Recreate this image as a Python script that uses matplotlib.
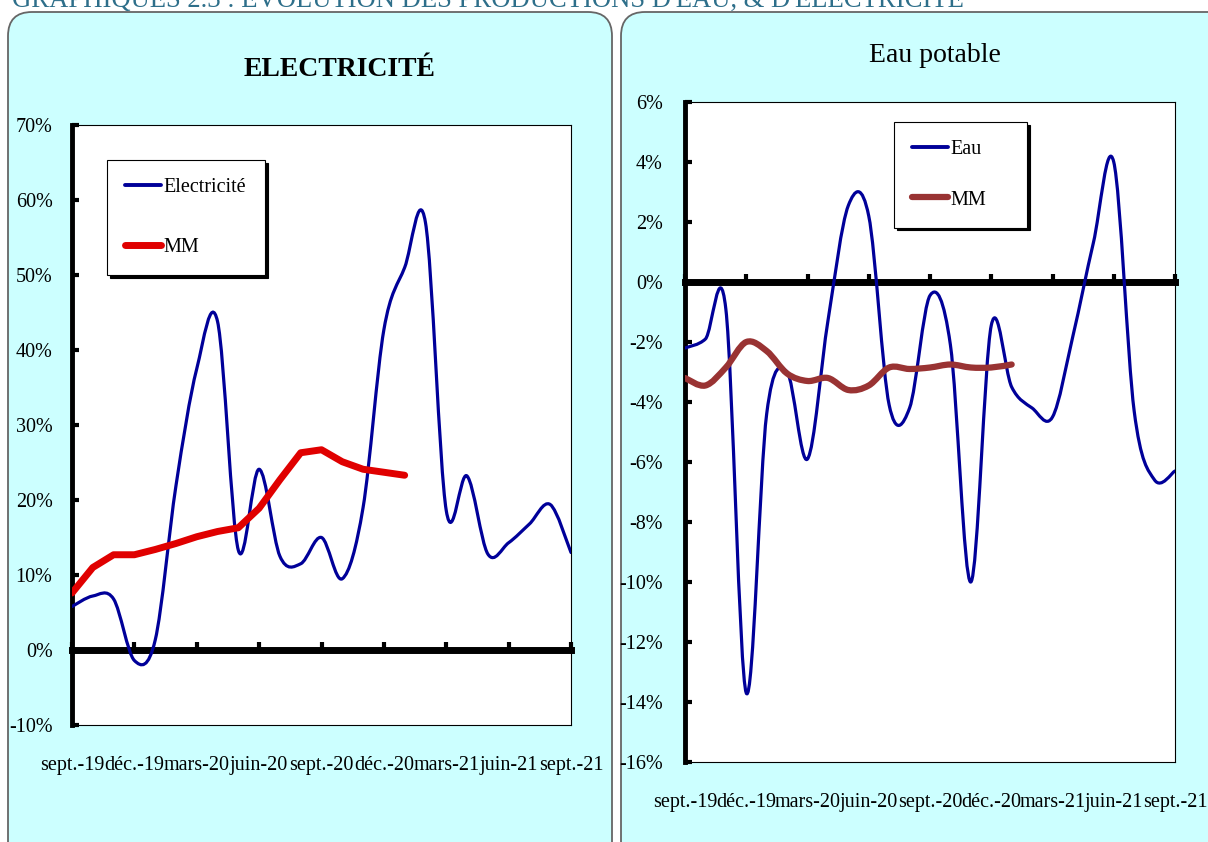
import numpy as np
import matplotlib
matplotlib.use('Agg')
import matplotlib.pyplot as plt
from matplotlib.path import Path
from matplotlib.patches import PathPatch, FancyBboxPatch
from matplotlib.lines import Line2D

plt.rcParams['font.family'] = ['Liberation Serif', 'DejaVu Serif']
plt.rcParams['axes.unicode_minus'] = False

# ------------------- DONNEES ----------------
# mois de sept.-19 a sept.-21 (25 mois), etiquettes tous les 3 mois
mois = np.arange(25)
etiq_idx = np.arange(0, 25, 3)
etiquettes = ['sept.-19', 'déc.-19', 'mars-20', 'juin-20', 'sept.-20',
              'déc.-20', 'mars-21', 'juin-21', 'sept.-21']

# electricite, glissement annuel en %
elec = [5.8, 7.2, 6.8, -1.4, 1.3, 21.9, 37.5, 43.8, 13.3, 24.1, 12.5, 11.5,
        15.0, 9.5, 19.0, 42.7, 51.0, 57.0, 18.6, 23.2, 12.8, 14.3, 16.8,
        19.4, 13.0]
elec_mm = [7.6, 11.0, 12.7, 12.7, 13.4, 14.2, 15.1, 15.8, 16.3, 18.9, 22.7,
           26.3, 26.7, 25.1, 24.1, 23.7, 23.3]
elec_yticks = [-10, 0, 10, 20, 30, 40, 50, 60, 70]

# eau potable, glissement annuel en %
eau = [-2.2, -1.9, -0.9, -13.7, -4.4, -3.0, -5.9, -1.3, 2.55, 2.2, -4.1,
       -4.2, -0.45, -2.1, -10.0, -1.45, -3.5, -4.2, -4.5, -1.8, 1.3, 4.0,
       -4.3, -6.6, -6.3]
eau_mm = [-3.2, -3.45, -2.85, -2.0, -2.3, -3.05, -3.3, -3.2, -3.6, -3.45,
          -2.85, -2.9, -2.85, -2.75, -2.85, -2.85, -2.75]
eau_yticks = [-16, -14, -12, -10, -8, -6, -4, -2, 0, 2, 4, 6]

TITRE = "GRAPHIQUES 2.3 : EVOLUTION DES PRODUCTIONS D'EAU, & D'ELECTRICITE"
FS = 14.5


def lisse(ax, x, y, **kw):
    "courbe lissee facon excel (bezier de catmull-rom)"
    p = np.column_stack([np.asarray(x, float), np.asarray(y, float)])
    pp = np.vstack([p[0], p, p[-1]])
    verts, codes = [p[0]], [Path.MOVETO]
    for i in range(len(p) - 1):
        p0, p1, p2, p3 = pp[i], pp[i + 1], pp[i + 2], pp[i + 3]
        verts += [p1 + (p2 - p0) / 6, p2 - (p3 - p1) / 6, p2]
        codes += [Path.CURVE4] * 3
    ax.add_patch(PathPatch(Path(verts, codes), facecolor='none',
                           capstyle='round', joinstyle='round', **kw))


def habille(ax, ylim, yticks, ypad, xpad):
    ax.set_xlim(0, 24)
    ax.set_ylim(*ylim)
    ax.set_yticks(yticks)
    ax.set_yticklabels(['%d%%' % v for v in yticks], fontsize=FS)
    ax.set_xticks(etiq_idx)
    ax.set_xticklabels(etiquettes, fontsize=FS)
    ax.tick_params(axis='x', length=0, pad=xpad)
    ax.tick_params(axis='y', direction='in', length=5, width=3, pad=ypad)
    for s in ['top', 'right', 'bottom']:
        ax.spines[s].set_linewidth(0.8)
    ax.spines['left'].set_linewidth(3.5)
    # axe des abscisses a 0
    pos = (0 - ylim[0]) / (ylim[1] - ylim[0])
    sec = ax.secondary_xaxis(pos)
    sec.set_alignment('bottom')
    sec.set_xticks(etiq_idx)
    sec.set_xticklabels([''] * len(etiq_idx))
    sec.tick_params(direction='in', length=6, width=3)
    sec.spines['bottom'].set_linewidth(5)


def legende(ax, handles, labels, x0, y0, w, spacing):
    leg = ax.legend(handles, labels, loc='upper left',
                    bbox_to_anchor=(x0, y0, w, 0), mode='expand',
                    alignment='center', borderaxespad=0,
                    fontsize=FS, frameon=True, fancybox=False,
                    edgecolor='black', framealpha=1,
                    shadow={'color': 'black', 'alpha': 1},
                    borderpad=0.9, labelspacing=spacing, handlelength=1.8,
                    handletextpad=0.1)
    leg.get_frame().set_linewidth(0.8)


fig = plt.figure(figsize=(12.08, 8.42), dpi=100)
W, H = 1208, 842

# panneaux de fond
for x0, x1 in [(8, 612), (621, 1240)]:
    fig.patches.append(FancyBboxPatch((x0, -40), x1 - x0, H - 12 + 40,
                                      boxstyle='round,pad=0,rounding_size=24',
                                      facecolor='#CCFFFF', edgecolor='#666666',
                                      linewidth=1.3, transform=None, zorder=-5))

fig.text(12 / W, 1 - 7 / H, TITRE, fontsize=19.2, color='#2E6F8A',
         va='baseline', ha='left')

# ---------------- ELECTRICITE ----------------
ax1 = fig.add_axes([72 / W, 1 - 725 / H, 499 / W, 600 / H])
ax1.set_facecolor('white')
lisse(ax1, mois, elec, edgecolor='#000099', linewidth=2.3, zorder=3)
ax1.plot(mois[:len(elec_mm)], elec_mm, color='#E00000', linewidth=5,
         solid_capstyle='round', solid_joinstyle='round', zorder=4)
habille(ax1, (-10, 70), elec_yticks, 14, 22)
legende(ax1, [Line2D([], [], color='#000099', lw=2.8, solid_capstyle='round'),
              Line2D([], [], color='#E00000', lw=5, solid_capstyle='round')],
        ['Electricité', 'MM'], 35 / 499, 1 - 35 / 600, 158 / 499, 2.0)
fig.text(340 / W, 1 - 70 / H, 'ELECTRICITÉ', fontsize=20, fontweight='bold',
         ha='center', va='center')

# ---------------- EAU POTABLE ----------------
ax2 = fig.add_axes([685 / W, 1 - 762 / H, 490 / W, 660 / H])
ax2.set_facecolor('white')
lisse(ax2, mois, eau, edgecolor='#000099', linewidth=2.3, zorder=3)
lisse(ax2, mois[:len(eau_mm)], eau_mm, edgecolor='#993333', linewidth=4.5,
      zorder=4)
habille(ax2, (-16, 6), eau_yticks, 16, 22)
legende(ax2, [Line2D([], [], color='#000099', lw=2.8, solid_capstyle='round'),
              Line2D([], [], color='#993333', lw=4.5, solid_capstyle='round')],
        ['Eau', 'MM'], 209 / 490, 1 - 20 / 660, 133 / 490, 1.55)
fig.text(935 / W, 1 - 55 / H, 'Eau potable', fontsize=20,
         ha='center', va='center')

fig.savefig('out.png', dpi=100)
